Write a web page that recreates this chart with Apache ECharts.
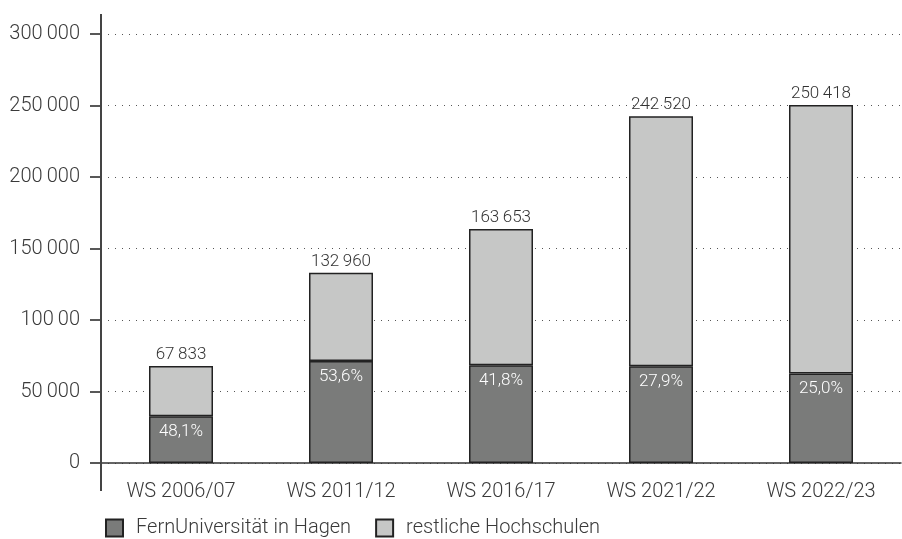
<!DOCTYPE html>
<html lang="de">
<head>
    <meta charset="UTF-8">
    <title>Studierende FernUniversität</title>
    <script src="https://cdn.jsdelivr.net/npm/echarts@6/dist/echarts.min.js"></script>
    <style>
        body { margin: 0; background: #fff; }
        #chart { width: 902px; height: 539px; }
    </style>
</head>
<body>
<div id="chart"></div>
<script>
    // Daten
    const categories = ['WS 2006/07', 'WS 2011/12', 'WS 2016/17', 'WS 2021/22', 'WS 2022/23'];
    const fernUni = [32628, 71267, 68407, 67663, 62605];
    const restliche = [35205, 61693, 95246, 174857, 187813];
    const totalLabels = ['67\u2009833', '132\u2009960', '163\u2009653', '242\u2009520', '250\u2009418'];
    const shareLabels = ['48,1%', '53,6%', '41,8%', '27,9%', '25,0%'];
    const yTickLabels = {
        0: '0', 50000: '50\u2009000', 100000: '100\u200900', 150000: '150\u2009000',
        200000: '200\u2009000', 250000: '250\u2009000', 300000: '300\u2009000'
    };

    const font = 'Roboto, "Liberation Sans", sans-serif';
    const textColor = '#3a3a3a';
    const chart = echarts.init(document.getElementById('chart'));

    chart.setOption({
        animation: false,
        textStyle: { fontFamily: font, fontWeight: 300 },
        grid: { left: 101, right: 1, top: 34, bottom: 76 },
        legend: {
            left: 103, bottom: -1, padding: 2,
            icon: 'rect',
            itemWidth: 17, itemHeight: 17, itemGap: 24,
            textStyle: { fontSize: 20, color: textColor, fontFamily: font, fontWeight: 300, padding: [0, 0, 0, 8] },
            data: ['FernUniversität in Hagen', 'restliche Hochschulen']
        },
        xAxis: {
            type: 'category',
            data: categories,
            axisLine: { lineStyle: { color: '#333', width: 1.5 } },
            axisTick: { show: false },
            axisLabel: { fontSize: 20, color: textColor, margin: 19, fontWeight: 300 }
        },
        yAxis: {
            type: 'value',
            min: 0, max: 300000, interval: 50000,
            axisLine: { show: false },
            axisTick: { show: true, length: 11, lineStyle: { color: '#222', width: 1.5 } },
            axisLabel: {
                fontSize: 20, color: textColor, margin: 21, fontWeight: 300,
                formatter: v => yTickLabels[v]
            },
            splitLine: { lineStyle: { color: '#555', width: 1, type: [1, 6] } }
        },
        series: [
            {
                name: 'FernUniversität in Hagen',
                type: 'bar',
                stack: 'gesamt',
                barWidth: 64,
                data: fernUni,
                itemStyle: { color: '#7a7b7a', borderColor: '#222', borderWidth: 1.5 },
                label: {
                    show: true, position: 'insideTop', distance: 7,
                    color: '#fff', fontSize: 17, fontWeight: 300,
                    formatter: p => shareLabels[p.dataIndex]
                }
            },
            {
                name: 'restliche Hochschulen',
                type: 'bar',
                stack: 'gesamt',
                barWidth: 64,
                data: restliche,
                itemStyle: { color: '#c6c7c6', borderColor: '#222', borderWidth: 1.5 },
                label: {
                    show: true, position: 'top', distance: 3,
                    color: '#333', fontSize: 17, fontWeight: 300,
                    formatter: p => totalLabels[p.dataIndex]
                }
            }
        ]
    });

    // senkrechte Achse, etwas über und unter das Raster hinaus verlängert
    const p0 = chart.convertToPixel({ gridIndex: 0 }, [0, 0]);
    const pTop = chart.convertToPixel({ yAxisIndex: 0 }, 300000);
    const xLine = chart.getModel().getComponent('grid').coordinateSystem.getRect().x;
    chart.setOption({
        graphic: [{
            type: 'line',
            shape: { x1: xLine, y1: pTop - 20, x2: xLine, y2: p0[1] + 28 },
            style: { stroke: '#444', lineWidth: 2 },
            z: 10
        }]
    });
</script>
</body>
</html>
